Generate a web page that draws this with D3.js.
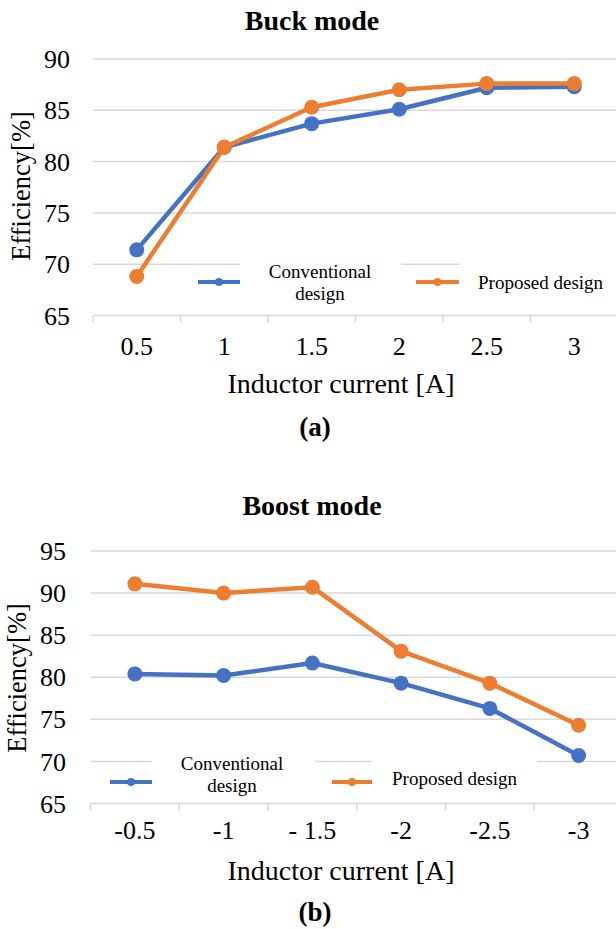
<!DOCTYPE html>
<html>
<head>
<meta charset="utf-8">
<script src="https://cdn.jsdelivr.net/npm/d3@7"></script>
<style>
  html, body { margin: 0; padding: 0; background: #fff; }
  svg { display: block; }
  text { font-family: "Liberation Serif", "Times New Roman", serif; fill: #000; }
</style>
</head>
<body>
<script>
// Efficiency vs inductor current, buck (a) and boost (b) operation
const buckCurrent = ["0.5", "1", "1.5", "2", "2.5", "3"];
const buckConventional = [71.4, 81.4, 83.7, 85.1, 87.2, 87.3];
const buckProposed = [68.8, 81.4, 85.3, 87.0, 87.6, 87.6];
const buckTicks = [65, 70, 75, 80, 85, 90];

const boostCurrent = ["-0.5", "-1", "- 1.5", "-2", "-2.5", "-3"];
const boostConventional = [80.4, 80.2, 81.7, 79.3, 76.3, 70.7];
const boostProposed = [91.1, 90.0, 90.7, 83.1, 79.3, 74.3];
const boostTicks = [65, 70, 75, 80, 85, 90, 95];

const seriesNames = ["Conventional design", "Proposed design"];
const BLUE = "#4472C4", ORANGE = "#ED7D31", GRID = "#d9d9d9";
const FONT = "'Liberation Serif', 'Times New Roman', serif";

const W = 616, H = 929;
const svg = d3.select("body").append("svg").attr("width", W).attr("height", H)
  .attr("font-family", FONT);

function drawPanel(p) {
  const g = svg.append("g");
  const x = d3.scaleBand().domain(p.categories).range([p.x0, p.x1]);
  const y = d3.scaleLinear().domain([p.ticks[0], p.ticks[p.ticks.length - 1]]).range([p.yBottom, p.yTop]);

  // horizontal gridlines
  g.selectAll(".grid").data(p.ticks.slice(1)).join("line")
    .attr("x1", p.x0).attr("x2", W)
    .attr("y1", d => y(d)).attr("y2", d => y(d))
    .attr("stroke", GRID).attr("stroke-width", 1.5);

  // category axis with tick marks between categories
  const xAxis = g.append("g").attr("transform", `translate(0,${y(p.ticks[0])})`)
    .call(d3.axisBottom(x).tickSize(0).tickPadding(0).tickFormat(() => ""));
  xAxis.select(".domain").remove();
  xAxis.append("line").attr("x1", p.x0).attr("x2", W).attr("stroke", GRID).attr("stroke-width", 1.5);
  const bounds = p.categories.map(c => x(c)).concat([p.x1]);
  xAxis.selectAll(".sep").data(bounds).join("line")
    .attr("x1", d => d).attr("x2", d => d).attr("y1", 0).attr("y2", 7)
    .attr("stroke", GRID).attr("stroke-width", 1.5);
  g.selectAll(".xl").data(p.categories).join("text")
    .attr("font-family", FONT)
    .attr("x", d => x(d) + x.bandwidth() / 2).attr("y", p.xLabelY)
    .attr("text-anchor", "middle").attr("font-size", 26).text(d => d);

  // value axis labels
  g.selectAll(".yl").data(p.ticks).join("text")
    .attr("font-family", FONT)
    .attr("x", p.yLabelX).attr("y", d => y(d)).attr("dy", "0.35em")
    .attr("text-anchor", "end").attr("font-size", 26).text(d => d);

  // titles
  g.append("text").attr("x", 312).attr("y", p.titleY).attr("text-anchor", "middle")
    .attr("font-size", 28).attr("font-weight", "bold").text(p.title);
  g.append("text").attr("x", 341).attr("y", p.axisTitleY).attr("text-anchor", "middle")
    .attr("font-size", 28).text("Inductor current [A]");
  g.append("text").attr("x", 315).attr("y", p.captionY).attr("text-anchor", "middle")
    .attr("font-size", 27).attr("font-weight", "bold").text(p.caption);
  g.append("text").attr("transform", `translate(${p.yTitleX},${p.yTitleY}) rotate(-90)`)
    .attr("text-anchor", "middle").attr("font-size", 26.5).text("Efficiency[%]");

  // legend (white label boxes sit over the gridline)
  const lg = p.legend;
  g.append("rect").attr("x", lg.box1[0]).attr("width", lg.box1[1] - lg.box1[0])
    .attr("y", lg.boxY).attr("height", 42).attr("fill", "#fff");
  g.append("rect").attr("x", lg.box2[0]).attr("width", lg.box2[1] - lg.box2[0])
    .attr("y", lg.boxY).attr("height", 42).attr("fill", "#fff");
  [[lg.line1, BLUE], [lg.line2, ORANGE]].forEach(([l, c]) => {
    g.append("line").attr("x1", l[0]).attr("x2", l[1]).attr("y1", lg.lineY).attr("y2", lg.lineY)
      .attr("stroke", c).attr("stroke-width", 4);
    g.append("circle").attr("cx", (l[0] + l[1]) / 2).attr("cy", lg.lineY).attr("r", 4).attr("fill", c);
  });
  const t1 = g.append("text").attr("text-anchor", "middle").attr("font-size", 19);
  t1.append("tspan").attr("x", lg.text1X).attr("y", lg.text1Y[0]).text("Conventional");
  t1.append("tspan").attr("x", lg.text1X).attr("y", lg.text1Y[1]).text("design");
  g.append("text").attr("x", lg.text2X).attr("y", lg.text2Y).attr("font-size", 19).text(seriesNames[1]);

  // series
  const line = d3.line().x((d, i) => x(p.categories[i]) + x.bandwidth() / 2).y(d => y(d));
  [[p.conventional, BLUE], [p.proposed, ORANGE]].forEach(([vals, c]) => {
    g.append("path").datum(vals).attr("d", line).attr("fill", "none")
      .attr("stroke", c).attr("stroke-width", 4.5).attr("stroke-linejoin", "round");
    g.selectAll(null).data(vals).join("circle")
      .attr("cx", (d, i) => x(p.categories[i]) + x.bandwidth() / 2)
      .attr("cy", d => y(d)).attr("r", 7.5).attr("fill", c);
  });
}

drawPanel({
  title: "Buck mode", caption: "(a)",
  categories: buckCurrent, conventional: buckConventional, proposed: buckProposed, ticks: buckTicks,
  x0: 93, x1: 618, yTop: 59, yBottom: 315.5,
  xLabelY: 355, yLabelX: 70, titleY: 30, axisTitleY: 393, captionY: 436,
  yTitleX: 30, yTitleY: 186,
  legend: { box1: [240, 401], box2: [460, 616], boxY: 262, lineY: 282,
            line1: [198, 240], line2: [416, 459],
            text1X: 320, text1Y: [278, 300], text2X: 478, text2Y: 289 }
});

drawPanel({
  title: "Boost mode", caption: "(b)",
  categories: boostCurrent, conventional: boostConventional, proposed: boostProposed, ticks: boostTicks,
  x0: 90.5, x1: 623, yTop: 551, yBottom: 803.5,
  xLabelY: 839, yLabelX: 66, titleY: 515, axisTitleY: 880, captionY: 921,
  yTitleX: 26, yTitleY: 678,
  legend: { box1: [152, 315], box2: [372, 537], boxY: 757, lineY: 782,
            line1: [110, 152], line2: [332, 372],
            text1X: 232, text1Y: [770, 792], text2X: 392, text2Y: 785 }
});
</script>
</body>
</html>
